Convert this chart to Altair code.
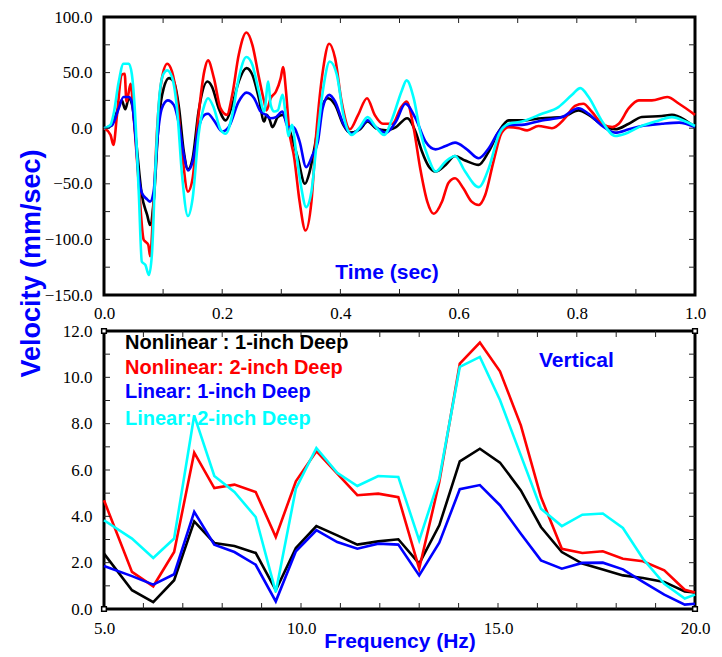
import altair as alt
import pandas as pd

# ---------------- data ----------------
SERIES = ["Nonlinear : 1-inch Deep", "Nonlinear: 2-inch Deep",
          "Linear: 1-inch Deep", "Linear: 2-inch Deep"]
COLORS = ["#000000", "#ff0000", "#0000ff", "#00ffff"]

# Top panel: velocity time histories (sec, mm/sec)
black_t = [0.000, 0.012, 0.022, 0.030, 0.036, 0.042, 0.048, 0.055, 0.064, 0.073, 0.078, 0.084, 0.093, 0.101,
           0.110, 0.118, 0.127, 0.135, 0.142, 0.150, 0.160, 0.175, 0.183, 0.194, 0.206, 0.217, 0.228, 0.241,
           0.251, 0.262, 0.271, 0.275, 0.280, 0.285, 0.294, 0.302, 0.311, 0.320, 0.328, 0.340, 0.348, 0.357,
           0.368, 0.379, 0.391, 0.405, 0.416, 0.433, 0.446, 0.460, 0.477, 0.494, 0.513, 0.527, 0.538, 0.549,
           0.561, 0.578, 0.594, 0.611, 0.634, 0.651, 0.668, 0.685, 0.707, 0.741, 0.775, 0.803, 0.820, 0.843,
           0.865, 0.888, 0.910, 0.944, 0.961, 0.984, 1.000]
black_v = [0, 2, 15, 25, 17, 27, 20, -15, -60, -78, -87, -66, 9, 36,
           45, 42, 18, -21, -37, -27, 15, 42, 37, 18, 7, 21, 42, 54,
           48, 27, 6, 12, 8, 1, 10, 12, 3, -12, -27, -50, -39, -15,
           18, 27, 21, 3, -4, -1, 6, 0, -2, 1, 9, -3, -21, -34,
           -39, -33, -25, -29, -33, -21, -3, 7, 7, 9, 10, 16, 12, 3,
           -1, 4, 10, 11, 12, 7, 1]

red_t = [0.000, 0.011, 0.016, 0.022, 0.030, 0.035, 0.038, 0.041, 0.045, 0.050, 0.059, 0.067, 0.070, 0.075,
         0.078, 0.084, 0.090, 0.098, 0.107, 0.115, 0.124, 0.132, 0.142, 0.150, 0.160, 0.170, 0.176, 0.186,
         0.197, 0.208, 0.217, 0.228, 0.241, 0.251, 0.262, 0.271, 0.275, 0.282, 0.291, 0.299, 0.303, 0.308,
         0.313, 0.322, 0.331, 0.341, 0.351, 0.359, 0.371, 0.381, 0.391, 0.402, 0.416, 0.430, 0.445, 0.458,
         0.472, 0.488, 0.503, 0.512, 0.524, 0.535, 0.547, 0.558, 0.572, 0.583, 0.594, 0.608, 0.622, 0.634,
         0.645, 0.659, 0.673, 0.685, 0.702, 0.716, 0.735, 0.758, 0.780, 0.797, 0.811, 0.825, 0.843, 0.860,
         0.871, 0.888, 0.905, 0.927, 0.953, 0.973, 1.000]
red_v = [0, -6, -15, 12, 48, 49, 24, 30, 40, 12, -51, -100, -102, -105,
         -115, -66, 0, 45, 58, 51, 24, -21, -57, -45, 12, 52, 61, 45,
         18, 12, 30, 66, 86, 75, 46, 24, 16, 27, 33, 45, 55, 33,
         0, -27, -66, -92, -66, -6, 54, 76, 63, 24, -1, 12, 27, 12,
         4, 4, 19, 24, 0, -36, -66, -77, -66, -49, -45, -54, -66, -69,
         -60, -30, -4, 1, 0, -2, 2, 0, 9, 20, 22, 15, 4, 1,
         4, 18, 25, 25, 28, 22, 12]

blue_t = [0.000, 0.014, 0.025, 0.033, 0.042, 0.047, 0.053, 0.059, 0.064, 0.073, 0.078, 0.084, 0.090, 0.098,
          0.108, 0.118, 0.127, 0.135, 0.142, 0.150, 0.160, 0.170, 0.176, 0.186, 0.200, 0.211, 0.228, 0.241,
          0.254, 0.265, 0.274, 0.282, 0.291, 0.302, 0.311, 0.320, 0.331, 0.342, 0.353, 0.362, 0.370, 0.381,
          0.391, 0.405, 0.419, 0.433, 0.446, 0.460, 0.477, 0.494, 0.510, 0.527, 0.544, 0.561, 0.578, 0.594,
          0.614, 0.634, 0.651, 0.668, 0.685, 0.707, 0.741, 0.775, 0.803, 0.820, 0.843, 0.865, 0.888, 0.910,
          0.944, 0.973, 1.000]
blue_v = [0, 3, 18, 28, 28, 24, -6, -45, -58, -64, -66, -57, -12, 18,
          25, 21, 3, -24, -38, -30, 0, 12, 13, 7, -3, 1, 24, 32,
          27, 15, 12, 9, 10, 15, 1, 1, -12, -35, -24, -12, 18, 30,
          24, 4, -5, 0, 7, 1, -4, 6, 22, 9, -12, -19, -16, -13,
          -19, -27, -18, -3, 3, 3, 7, 10, 18, 13, 2, -4, -1, 2,
          4, 5, 1]

cyan_t = [0.000, 0.011, 0.016, 0.025, 0.033, 0.042, 0.047, 0.052, 0.059, 0.064, 0.070, 0.076, 0.081, 0.087,
          0.093, 0.100, 0.107, 0.115, 0.124, 0.132, 0.142, 0.150, 0.160, 0.170, 0.176, 0.186, 0.197, 0.206,
          0.217, 0.228, 0.241, 0.251, 0.262, 0.271, 0.278, 0.282, 0.288, 0.294, 0.302, 0.308, 0.312, 0.318,
          0.325, 0.334, 0.342, 0.351, 0.359, 0.371, 0.382, 0.394, 0.405, 0.419, 0.433, 0.446, 0.460, 0.474,
          0.488, 0.504, 0.512, 0.524, 0.535, 0.549, 0.561, 0.578, 0.594, 0.611, 0.634, 0.651, 0.668, 0.685,
          0.707, 0.741, 0.769, 0.792, 0.806, 0.820, 0.843, 0.865, 0.882, 0.905, 0.933, 0.961, 0.984, 1.000]
cyan_v = [0, 3, 12, 42, 58, 58, 49, 18, -60, -120, -123, -132, -114, -36,
          24, 48, 52, 46, 15, -42, -79, -63, -6, 21, 27, 18, -1, -5,
          12, 45, 64, 57, 33, 15, 42, 21, 15, 16, 30, 9, -7, 3,
          -21, -54, -71, -57, -18, 36, 60, 48, 12, -6, 1, 10, 1, -6,
          9, 34, 43, 27, -3, -27, -39, -30, -25, -39, -53, -36, -6, 4,
          6, 13, 19, 30, 36, 28, 6, -7, -5, 1, 6, 10, 6, 2]

# Bottom panel: Fourier amplitude spectra (Hz, amplitude)
freq = [5.00, 5.71, 6.25, 6.78, 7.29, 7.80, 8.31, 8.85, 9.36, 9.87, 10.39, 10.92, 11.43, 11.96, 12.47,
        13.00, 13.51, 14.03, 14.54, 15.05, 15.58, 16.09, 16.62, 17.14, 17.66, 18.17, 18.68, 19.22, 19.74, 20.00]
black_amp = [2.39, 0.81, 0.30, 1.24, 3.78, 2.85, 2.72, 2.42, 0.81, 2.63, 3.58, 3.18, 2.78, 2.92, 3.01,
             1.96, 3.61, 6.37, 6.92, 6.32, 5.12, 3.54, 2.46, 1.96, 1.70, 1.45, 1.34, 1.17, 0.76, 0.71]
red_amp = [4.69, 1.60, 0.98, 2.46, 6.75, 5.22, 5.37, 5.05, 3.11, 5.51, 6.81, 5.84, 4.91, 4.98, 4.83,
           1.74, 5.48, 10.59, 11.50, 10.26, 7.93, 4.83, 2.60, 2.42, 2.49, 2.17, 2.06, 1.67, 0.83, 0.71]
blue_amp = [1.86, 1.42, 1.05, 1.50, 4.19, 2.78, 2.46, 1.91, 0.33, 2.49, 3.40, 2.89, 2.60, 2.82, 2.78,
            1.45, 2.86, 5.17, 5.35, 4.48, 3.25, 2.10, 1.74, 1.99, 2.00, 1.71, 1.17, 0.62, 0.19, 0.23]
cyan_amp = [3.83, 3.04, 2.20, 3.04, 8.36, 5.74, 5.05, 3.97, 0.73, 5.19, 6.95, 5.88, 5.31, 5.74, 5.70,
            2.96, 5.63, 10.45, 10.88, 9.02, 6.63, 4.33, 3.58, 4.07, 4.12, 3.50, 2.17, 1.09, 0.45, 0.62]

# axis tick values
time_labels = [0.0, 0.2, 0.4, 0.6, 0.8, 1.0]
time_ticks = [0.1, 0.2, 0.3, 0.4, 0.5, 0.6, 0.7, 0.8, 0.9]
vel_labels = [-150, -100, -50, 0, 50, 100]
vel_ticks = [-125, -100, -75, -50, -25, 0, 25, 50, 75]
freq_labels = [5, 10, 15, 20]
freq_ticks = [6, 7, 8, 9, 10, 11, 12, 13, 14, 15, 16, 17, 18, 19]
amp_labels = [0, 2, 4, 6, 8, 10, 12]
amp_ticks = [1, 2, 3, 4, 5, 6, 7, 8, 9, 10, 11]
corner_f = [5, 5, 20, 20]
corner_a = [0, 12, 0, 12]

# ---------------- style ----------------
W, H = 591, 278
TL = 6
BLUE = "#0000ff"
SANS = "Liberation Sans"
SERIF = "Liberation Serif"
LW = 2.6

# ---------------- top panel ----------------
xt = alt.X("t:Q", scale=alt.Scale(domain=[0, 1], nice=False, zero=False),
           axis=alt.Axis(values=time_labels, format=".1f", title=None, labelPadding=10))
yt = alt.Y("v:Q", scale=alt.Scale(domain=[-150, 100], nice=False, zero=False),
           axis=alt.Axis(values=vel_labels, format=".1f", title="Velocity (mm/sec)",
                         titleX=-73, titleY=246, titleAngle=270, titleAlign="center",
                         titleBaseline="middle", titleFont=SANS, titleFontSize=27,
                         titleFontWeight="bold", titleColor=BLUE, labelPadding=12))

top_layers = []
for ts, vs, c in [(black_t, black_v, COLORS[0]), (red_t, red_v, COLORS[1]),
                  (blue_t, blue_v, COLORS[2]), (cyan_t, cyan_v, COLORS[3])]:
    df = pd.DataFrame({"t": ts, "v": vs})
    top_layers.append(alt.Chart(df).mark_line(color=c, strokeWidth=LW, interpolate="monotone")
                      .encode(x=xt, y=yt))

tt = pd.DataFrame({"t": time_ticks})
tv = pd.DataFrame({"v": vel_ticks})
top_layers += [
    alt.Chart(tt).mark_rule(color="#222", strokeWidth=1).encode(x=xt, y=alt.value(0), y2=alt.value(TL)),
    alt.Chart(tt).mark_rule(color="#222", strokeWidth=1).encode(x=xt, y=alt.value(H), y2=alt.value(H - TL)),
    alt.Chart(tv).mark_rule(color="#222", strokeWidth=1).encode(y=yt, x=alt.value(0), x2=alt.value(TL)),
    alt.Chart(tv).mark_rule(color="#222", strokeWidth=1).encode(y=yt, x=alt.value(W), x2=alt.value(W - TL)),
    alt.Chart(pd.DataFrame({"a": [0]})).mark_text(
        text="Time (sec)", font=SANS, fontSize=21, fontWeight="bold", color=BLUE,
        align="center", baseline="alphabetic").encode(x=alt.value(283), y=alt.value(262)),
]
top = alt.layer(*top_layers).properties(width=W, height=H)

# ---------------- bottom panel ----------------
xf = alt.X("f:Q", scale=alt.Scale(domain=[5, 20], nice=False, zero=False),
           axis=alt.Axis(values=freq_labels, format=".1f", title="Frequency (Hz)",
                         titleFont=SANS, titleFontSize=21, titleFontWeight="bold",
                         titleColor=BLUE, titleY=38, titleBaseline="alphabetic", labelPadding=11))
yf = alt.Y("a:Q", scale=alt.Scale(domain=[0, 12], nice=False, zero=False),
           axis=alt.Axis(values=amp_labels, format=".1f", title=None, labelPadding=12))

bot_layers = []
for amps, c in [(black_amp, COLORS[0]), (red_amp, COLORS[1]), (blue_amp, COLORS[2]), (cyan_amp, COLORS[3])]:
    df = pd.DataFrame({"f": freq, "a": amps})
    bot_layers.append(alt.Chart(df).mark_line(color=c, strokeWidth=LW).encode(x=xf, y=yf))

ft = pd.DataFrame({"f": freq_ticks})
at = pd.DataFrame({"a": amp_ticks})
bot_layers += [
    alt.Chart(ft).mark_rule(color="#222", strokeWidth=1).encode(x=xf, y=alt.value(0), y2=alt.value(TL)),
    alt.Chart(ft).mark_rule(color="#222", strokeWidth=1).encode(x=xf, y=alt.value(H), y2=alt.value(H - TL)),
    alt.Chart(at).mark_rule(color="#222", strokeWidth=1).encode(y=yf, x=alt.value(0), x2=alt.value(TL)),
    alt.Chart(at).mark_rule(color="#222", strokeWidth=1).encode(y=yf, x=alt.value(W), x2=alt.value(W - TL)),
    alt.Chart(pd.DataFrame({"f": corner_f, "a": corner_a})).mark_square(
        size=22, fill="white", stroke="black", strokeWidth=1.5, opacity=1).encode(x=xf, y=yf),
]
legend_y = [18, 43, 67, 94]
for name, c, yy in zip(SERIES, COLORS, legend_y):
    bot_layers.append(alt.Chart(pd.DataFrame({"a": [0]})).mark_text(
        text=name, font=SANS, fontSize=20, fontWeight="bold", color=c,
        align="left", baseline="alphabetic").encode(x=alt.value(21), y=alt.value(yy)))
bot_layers.append(alt.Chart(pd.DataFrame({"a": [0]})).mark_text(
    text="Vertical", font=SANS, fontSize=21, fontWeight="bold", color=BLUE,
    align="left", baseline="alphabetic").encode(x=alt.value(435), y=alt.value(36)))
bottom = alt.layer(*bot_layers).properties(width=W, height=H)

chart = alt.vconcat(top, bottom, spacing=36, bounds="flush").properties(
    padding={"left": 15, "top": 6, "right": 10, "bottom": 5}
).configure_view(stroke="black", strokeWidth=3).configure_axis(
    grid=False, domain=False, ticks=False, tickSize=0, labelFont=SERIF, labelFontSize=17,
    labelColor="black", labelFlush=False, labelOverlap=False
)

chart.save("out.html", embed_options={"renderer": "svg", "actions": False})
